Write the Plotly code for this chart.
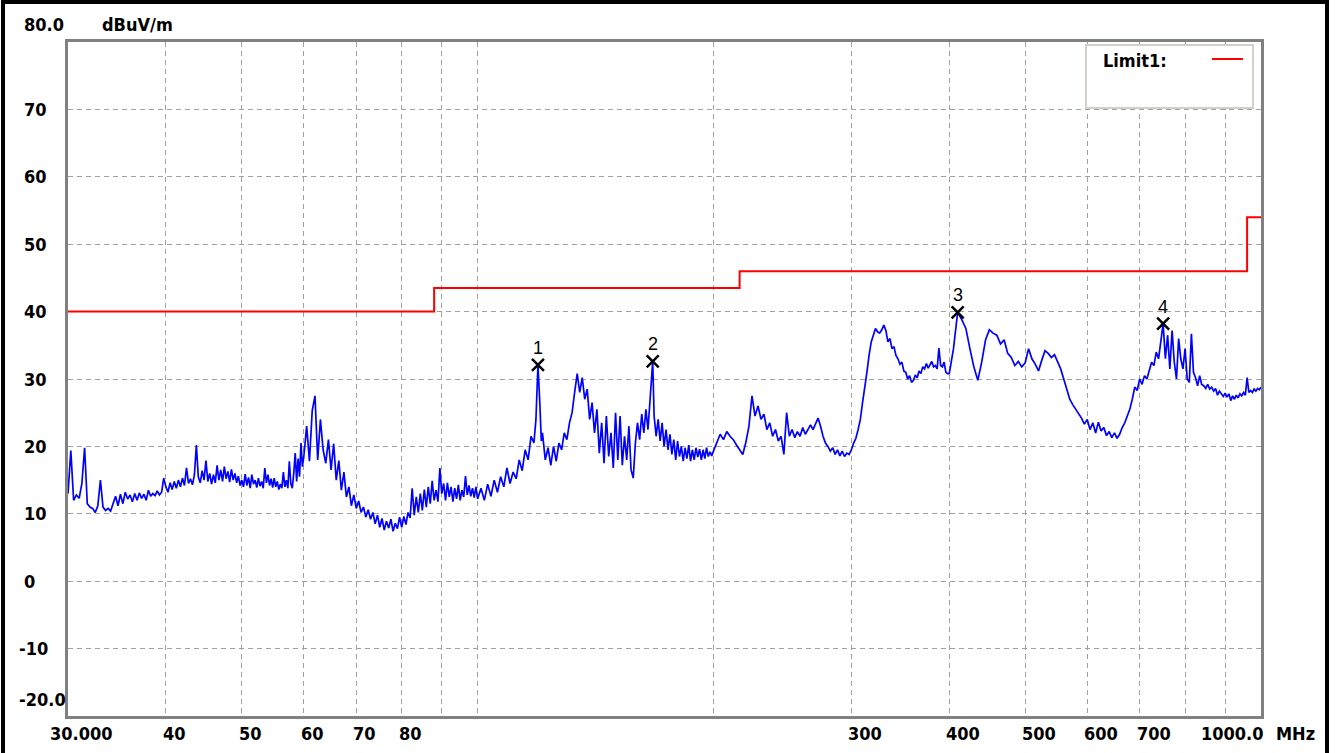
import math
import plotly.graph_objects as go

# ---------------- data ----------------
# 30 - 40 MHz
band1_freq = [
    30.00, 30.25, 30.50, 30.75, 31.00, 31.25, 31.50, 31.75, 32.00, 32.25,
    32.50, 32.75, 33.00, 33.25, 33.50, 33.75, 34.00, 34.25, 34.50, 34.75,
    35.00, 35.25, 35.50, 35.75, 36.00, 36.25, 36.50, 36.75, 37.00, 37.25,
    37.50, 37.75, 38.00, 38.25, 38.50, 38.75, 39.00, 39.25, 39.50, 39.75,
]
band1_level = [
    13.0, 19.4, 12.0, 12.8, 12.3, 14.5, 19.8, 11.5, 11.0, 10.8,
    10.2, 11.2, 15.0, 11.0, 10.5, 10.8, 10.4, 11.5, 12.6, 11.2,
    12.9, 11.5, 13.2, 12.2, 12.8, 11.8, 13.0, 12.0, 13.1, 12.3,
    12.9, 12.0, 13.5, 12.6, 13.0, 12.7, 13.4, 12.8, 13.2, 15.3,
]

# 40 - 60 MHz
band2_freq = [
    40.00, 40.25, 40.50, 40.75, 41.00, 41.25, 41.50, 41.75, 42.00, 42.25,
    42.50, 42.75, 43.00, 43.25, 43.50, 43.75, 44.00, 44.25, 44.50, 44.75,
    45.00, 45.25, 45.50, 45.75, 46.00, 46.25, 46.50, 46.75, 47.00, 47.25,
    47.50, 47.75, 48.00, 48.25, 48.50, 48.75, 49.00, 49.25, 49.50, 49.75,
    50.00, 50.25, 50.50, 50.75, 51.00, 51.25, 51.50, 51.75, 52.00, 52.25,
    52.50, 52.75, 53.00, 53.25, 53.50, 53.75, 54.00, 54.25, 54.50, 54.75,
    55.00, 55.25, 55.50, 55.75, 56.00, 56.25, 56.50, 56.75, 57.00, 57.25,
    57.50, 57.75, 58.00, 58.25, 58.50, 58.75, 59.00, 59.25, 59.50, 59.75,
]
band2_level = [
    14.0, 13.2, 14.6, 13.6, 14.8, 13.8, 15.0, 14.0, 15.3, 14.2,
    16.8, 14.5, 15.2, 14.3, 15.8, 20.2, 15.5, 14.6, 16.4, 15.0,
    17.9, 14.8, 16.0, 14.4, 15.8, 14.6, 17.2, 15.0, 16.5, 14.8,
    17.0, 15.2, 16.3, 14.7, 16.6, 15.0, 16.0, 14.6, 15.6, 14.2,
    15.0, 14.0, 15.9, 14.2, 15.4, 13.8, 15.8, 14.4, 15.0, 13.9,
    15.3, 14.1, 14.8, 13.8, 16.8, 14.6, 15.8, 14.2, 15.2, 13.9,
    15.3, 14.0, 14.8, 13.6, 14.4, 13.8, 16.2, 14.0, 15.0, 13.8,
    17.8, 14.5, 13.8, 16.0, 19.0, 14.8, 18.2, 15.5, 20.5, 17.0,
]

# 60 - 100 MHz
band3_freq = [
    60.0, 60.5, 61.0, 61.5, 62.0, 62.5, 63.0, 63.5, 64.0, 64.5,
    65.0, 65.5, 66.0, 66.5, 67.0, 67.5, 68.0, 68.5, 69.0, 69.5,
    70.0, 70.5, 71.0, 71.5, 72.0, 72.5, 73.0, 73.5, 74.0, 74.5,
    75.0, 75.5, 76.0, 76.5, 77.0, 77.5, 78.0, 78.5, 79.0, 79.5,
    80.0, 80.5, 81.0, 81.5, 82.0, 82.5, 83.0, 83.5, 84.0, 84.5,
    85.0, 85.5, 86.0, 86.5, 87.0, 87.5, 88.0, 88.5, 89.0, 89.5,
    90.0, 90.5, 91.0, 91.5, 92.0, 92.5, 93.0, 93.5, 94.0, 94.5,
    95.0, 95.5, 96.0, 96.5, 97.0, 97.5, 98.0, 98.5, 99.0, 99.5,
]
band3_level = [
    18.5, 23.0, 17.8, 25.3, 27.5, 18.0, 24.0, 19.5, 17.5, 21.0,
    16.5, 20.4, 15.0, 17.9, 13.5, 16.2, 12.5, 14.0, 11.2, 12.8,
    10.8, 11.9, 10.2, 11.0, 9.5, 10.6, 9.2, 10.2, 8.5, 9.8,
    8.0, 9.3, 7.6, 8.9, 7.9, 9.2, 7.4, 8.6, 7.8, 9.5,
    8.0, 9.6, 8.4, 10.2, 9.4, 13.8, 9.8, 12.5, 10.2, 13.0,
    10.5, 13.6, 11.0, 14.0, 11.5, 14.9, 12.0, 13.5, 11.8, 16.8,
    13.0, 14.5, 12.0, 14.6, 12.5, 14.0, 11.8, 13.8, 12.2, 14.3,
    12.0, 13.5, 12.5, 15.6, 12.8, 14.2, 12.6, 13.8, 12.4, 14.0,
]

# 100 - 200 MHz
band4_freq = [
    100, 101, 102, 103, 104, 105, 106, 107, 108, 109,
    110, 111, 112, 113, 114, 115, 116, 117, 118, 118.7,
    119.4, 120, 120.6, 121, 122, 123, 124, 125, 126, 127,
    128, 129, 130, 131, 132, 133, 134, 135, 136, 137,
    138, 139, 140, 141, 142, 143, 144, 145, 146, 147,
    148, 149, 150, 151, 152, 153, 154, 155, 156, 157,
    158, 159, 160, 161, 162, 163, 164, 165, 166, 167.3,
    168, 169, 170, 171, 172, 173, 174, 175, 176, 177,
    178, 179, 180, 181, 182, 183, 184, 185, 186, 187,
    188, 189, 190, 191, 192, 193, 194, 195, 196, 197,
    198, 199,
]
band4_level = [
    12.2, 13.8, 12.0, 14.4, 12.6, 15.0, 13.2, 15.5, 14.0, 16.8,
    14.5, 16.2, 15.2, 18.0, 16.4, 19.5, 18.0, 21.5, 20.5, 24.0,
    32.1, 27.0, 20.8, 22.0, 18.0, 19.8, 17.2, 20.0, 17.8, 20.5,
    19.5, 22.0, 21.0, 23.5, 25.0, 28.0, 30.8, 28.0, 30.2, 27.0,
    28.5, 24.0, 26.5, 22.0, 25.5, 19.0, 23.5, 17.5, 24.5, 18.5,
    22.0, 16.8, 25.0, 18.0, 24.5, 17.2, 21.5, 18.0, 23.0, 16.5,
    15.3, 20.5, 23.5, 21.0, 24.8, 22.0, 25.5, 22.5, 27.0, 32.6,
    24.5, 21.5, 24.0, 20.8, 23.5, 20.0, 22.5, 19.5, 21.8, 18.8,
    21.0, 18.0, 20.8, 18.5, 20.0, 17.8, 19.8, 18.2, 20.2, 17.8,
    19.5, 18.0, 19.8, 18.4, 19.6, 18.0, 19.5, 18.2, 19.8, 18.5,
    19.2, 18.6,
]

# 200 - 400 MHz
band5_freq = [
    200, 202, 204, 206, 208, 210, 212, 214, 216, 218,
    220, 222, 224, 226, 228, 230, 232, 234, 236, 238,
    240, 242, 244, 246, 248, 250, 252, 254, 256, 258,
    260, 262, 264, 266, 268, 270, 272, 274, 276, 278,
    280, 282, 284, 286, 288, 290, 292, 294, 296, 298,
    300, 302, 304, 306, 308, 310, 312, 314, 316, 318,
    320, 322, 324, 326, 328, 330, 332, 334, 336, 338,
    340, 342, 344, 346, 348, 350, 352, 354, 356, 358,
    360, 362, 364, 366, 368, 370, 372, 374, 376, 378,
    380, 382, 384, 386, 388, 390, 392, 394, 396, 398,
]
band5_level = [
    19.3, 20.5, 21.8, 21.0, 22.2, 21.5, 21.0, 20.2, 19.5, 18.8,
    20.6, 23.0, 27.5, 24.5, 26.0, 24.0, 24.8, 22.5, 23.5, 21.5,
    22.5, 20.8, 21.5, 18.8, 25.0, 21.5, 22.5, 21.3, 22.2, 21.5,
    22.8, 21.8, 22.5, 23.2, 22.5, 23.5, 24.2, 23.0, 21.5, 20.5,
    20.0, 19.3, 19.8, 18.8, 19.5, 18.6, 19.3, 18.5, 19.0, 18.8,
    19.5, 20.5, 21.2, 22.5, 24.0, 26.5, 28.5, 31.0, 33.5, 35.5,
    36.5, 37.5, 37.0, 36.8, 37.3, 38.0, 37.2, 35.5, 36.0, 34.5,
    34.8, 33.5, 33.0, 32.2, 32.5, 31.2, 31.0, 30.0, 30.5, 29.5,
    29.8, 30.6, 30.2, 31.2, 30.8, 31.8, 31.5, 32.3, 31.6, 32.0,
    32.6, 31.8, 32.0, 31.5, 34.6, 32.0, 31.8, 32.5, 31.0, 30.8,
]

# 400 - 1000 MHz
band6_freq = [
    400, 405, 410, 415, 420, 425, 430, 435, 440, 445,
    450, 455, 460, 465, 470, 475, 480, 485, 490, 495,
    500, 505, 510, 515, 520, 525, 530, 535, 540, 545,
    550, 555, 560, 565, 570, 575, 580, 585, 590, 595,
    600, 605, 610, 615, 620, 625, 630, 635, 640, 645,
    650, 655, 660, 665, 670, 675, 680, 685, 690, 695,
    700, 705, 710, 715, 720, 725, 730, 735, 740, 745,
    750, 755, 760, 765, 770, 775, 780, 785, 790, 795,
    800, 805, 810, 815, 820, 825, 830, 835, 840, 845,
    850, 855, 860, 865, 870, 875, 880, 885, 890, 895,
    900, 905, 910, 915, 920, 925, 930, 935, 940, 945,
    950, 955, 960, 965, 970, 975, 980, 985, 990, 995,
    1000,
]
band6_level = [
    30.8, 34.5, 39.9, 38.8, 37.5, 34.5, 31.8, 29.8, 32.5, 35.8,
    37.3, 36.8, 36.5, 35.2, 35.8, 33.8, 33.2, 32.0, 32.6, 31.8,
    32.4, 34.5, 33.0, 32.2, 31.2, 32.8, 34.2, 33.8, 33.2, 33.6,
    32.4, 31.5, 30.0, 28.5, 27.0, 26.2, 25.5, 24.8, 24.2, 23.3,
    24.0, 22.5, 23.5, 22.0, 23.6, 22.3, 22.8, 21.6, 22.2, 21.3,
    22.0, 21.2, 21.8, 22.8, 23.5, 24.5, 25.5, 27.0, 28.8, 28.3,
    30.0, 29.2, 30.5, 30.0, 31.3, 32.5, 32.0, 34.0, 33.0, 35.5,
    38.2, 33.0, 36.5, 31.5, 37.2, 32.5, 30.0, 36.0, 33.0, 31.5,
    34.5, 30.0, 29.5, 36.7, 31.0, 30.2, 29.0, 30.5, 29.2, 29.0,
    28.6, 29.2, 28.5, 28.8, 28.2, 28.6, 27.6, 28.2, 27.7, 27.4,
    27.9, 27.3, 27.8, 26.8, 27.5, 27.0, 27.6, 27.2, 27.8, 27.5,
    28.0, 27.6, 30.2, 28.0, 28.3, 28.0, 28.5, 28.2, 28.6, 28.4,
    28.8,
]

freq_mhz = band1_freq + band2_freq + band3_freq + band4_freq + band5_freq + band6_freq
level_dbuv = band1_level + band2_level + band3_level + band4_level + band5_level + band6_level

limit_freq_mhz = [30, 88, 216, 960, 1000]
limit_dbuv = [40, 43.5, 46, 54, 54]

marker_freq_mhz = [119.4, 167.3, 410.0, 750.0]
marker_dbuv = [32.1, 32.6, 39.9, 38.2]
marker_labels = ["1", "2", "3", "4"]

grid_freq_mhz = [40, 50, 60, 70, 80, 90, 100, 200, 300, 400, 500, 600, 700, 800, 900]
x_tick_vals = [30, 40, 50, 60, 70, 80, 300, 400, 500, 600, 700, 1000]
x_tick_text = ["30.000", "40", "50", "60", "70", "80", "300", "400", "500", "600", "700", "1000.0"]
y_grid_vals = [-10, 0, 10, 20, 30, 40, 50, 60, 70]
y_tick_vals = [80, 70, 60, 50, 40, 30, 20, 10, 0, -10, -20]
y_tick_text = ["80.0", "70", "60", "50", "40", "30", "20", "10", "0", "-10", "-20.0"]

# ---------------- layout geometry ----------------
W, H = 1335, 753
L, R, T, B = 68, 1261, 42, 716

def px_x(p):
    return (p - L) / (R - L)

def px_y(p):
    return (B - p) / (B - T)

FONT = "Liberation Sans Narrow, Arial Narrow, DejaVu Sans Condensed, sans-serif"
GRID = "#a0a0a0"
FRAME = "#808080"

fig = go.Figure()

fig.add_trace(go.Scatter(
    x=freq_mhz, y=level_dbuv, mode="lines",
    line=dict(color="#0000ff", width=1.7), hoverinfo="skip",
))
fig.add_trace(go.Scatter(
    x=limit_freq_mhz, y=limit_dbuv, mode="lines",
    line=dict(color="#ff0000", width=2, shape="hv"), hoverinfo="skip",
))
fig.add_trace(go.Scatter(
    x=marker_freq_mhz, y=marker_dbuv, mode="markers",
    marker=dict(symbol="x-thin", size=12, line=dict(color="black", width=2.5)),
    hoverinfo="skip",
))

annotations = []
for f, v, t in zip(marker_freq_mhz, marker_dbuv, marker_labels):
    annotations.append(dict(
        x=math.log10(f), y=v, xref="x", yref="y", text=t, showarrow=False,
        yshift=17, font=dict(family="Liberation Sans, Arial, sans-serif", size=18, color="black"),
    ))

for v, t in zip(x_tick_vals, x_tick_text):
    shift = -5
    if t == "30.000":
        shift = -20
    elif t == "1000.0":
        shift = -62
    annotations.append(dict(
        x=math.log10(v), y=px_y(733), xref="x", yref="paper", text=t, showarrow=False,
        xanchor="left", yanchor="middle", xshift=shift,
        font=dict(family=FONT, size=18, color="black", weight="bold"),
    ))
annotations.append(dict(
    x=px_x(1274), y=px_y(733), xref="paper", yref="paper", text="MHz", showarrow=False,
    xanchor="left", yanchor="middle",
    font=dict(family=FONT, size=18, color="black", weight="bold"),
))

for v, t in zip(y_tick_vals, y_tick_text):
    xpx = 17 if t.startswith("-") else 22
    ys = 0
    if t == "80.0":
        ys = 18
    elif t == "-20.0":
        ys = 17
    annotations.append(dict(
        x=px_x(xpx), y=v, xref="paper", yref="y", text=t, showarrow=False,
        xanchor="left", yanchor="middle", yshift=ys,
        font=dict(family=FONT, size=18, color="black", weight="bold"),
    ))
annotations.append(dict(
    x=px_x(100), y=80, xref="paper", yref="y", text="dBuV/m", showarrow=False,
    xanchor="left", yanchor="middle", yshift=18,
    font=dict(family=FONT, size=18, color="black", weight="bold"),
))

# legend box
annotations.append(dict(
    x=px_x(1101), y=px_y(60), xref="paper", yref="paper", text="Limit1:", showarrow=False,
    xanchor="left", yanchor="middle",
    font=dict(family=FONT, size=18, color="black", weight="bold"),
))

shapes = [
    dict(type="rect", xref="paper", yref="paper",
         x0=px_x(1086), x1=px_x(1253), y0=px_y(108), y1=px_y(45),
         line=dict(color="#d4d0c8", width=2), fillcolor="white", layer="above"),
    dict(type="line", xref="paper", yref="paper",
         x0=px_x(1212), x1=px_x(1243), y0=px_y(59), y1=px_y(59),
         line=dict(color="#ff0000", width=2), layer="above"),
    # outer black window border
    dict(type="rect", xref="paper", yref="paper",
         x0=px_x(3), x1=px_x(1327), y0=px_y(770), y1=px_y(2),
         line=dict(color="black", width=4), fillcolor="rgba(0,0,0,0)", layer="above"),
]

fig.update_layout(
    width=W, height=H,
    margin=dict(l=L, r=W - R, t=T, b=H - B, pad=0),
    paper_bgcolor="white", plot_bgcolor="white",
    showlegend=False,
    annotations=annotations,
    shapes=shapes,
    xaxis=dict(
        type="log", range=[math.log10(30), math.log10(1000)],
        tickmode="array", tickvals=grid_freq_mhz, showticklabels=False, ticks="",
        showgrid=True, gridcolor=GRID, gridwidth=1, griddash="5px,4px",
        showline=True, mirror=True, linecolor=FRAME, linewidth=3, zeroline=False,
    ),
    yaxis=dict(
        range=[-20, 80],
        tickmode="array", tickvals=y_grid_vals, showticklabels=False, ticks="",
        showgrid=True, gridcolor=GRID, gridwidth=1, griddash="5px,4px",
        showline=True, mirror=True, linecolor=FRAME, linewidth=3, zeroline=False,
    ),
)

fig.write_html(
    "out.html",
    config={"displayModeBar": False},
    post_script="document.body.style.margin='0';document.body.style.overflow='hidden';",
)
